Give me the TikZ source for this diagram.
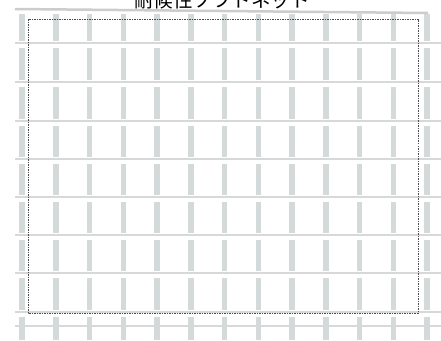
\documentclass[tikz,border=0pt]{standalone}
\usepackage{fontspec}
\newfontfamily\jpfont{Noto Sans CJK JP}
\definecolor{meshgray}{RGB}{212,217,217}
\definecolor{wiregray}{RGB}{216,216,216}

\begin{document}
\begin{tikzpicture}[x=1pt,y=-1pt,
    stripe/.style={meshgray,line width=5.5pt},
    wire/.style={wiregray,line width=1.4pt},
    gapband/.style={fill=white},
    frame/.style={black!70,line width=0.6pt,dash pattern=on 1.5pt off 1pt}]
  % Bildgroesse
  \useasboundingbox[fill=white] (0,0) rectangle (441,340);

  % Titel (oben abgeschnitten)
  \node[font=\jpfont\fontsize{19.5}{20}\selectfont,anchor=base,inner sep=0pt] (titel)
    at (222,7) {耐候性ソフトネット};

  % senkrechte Streifen
  \foreach \i in {0,...,12}
    \draw[stripe] ({22+33.75*\i},14) -- ({22+33.75*\i},340);

  % Luecken an den waagrechten Draehten
  \foreach \h in {43,82,121,159,197,235,273,312}
    \fill[gapband] (15,{\h-2}) rectangle (441,{\h+4.5});

  % waagrechte Draehte
  \foreach \h in {43,82,121,159,197,235,273,312,326}
    \draw[wire] (15,\h) -- (441,\h);

  % obere Kante
  \draw[gray!40,line width=2.5pt] (15,9) -- (428,13);

  % gestrichelter Rahmen
  \draw[frame] (28,19) rectangle (418,313);
\end{tikzpicture}
\end{document}
